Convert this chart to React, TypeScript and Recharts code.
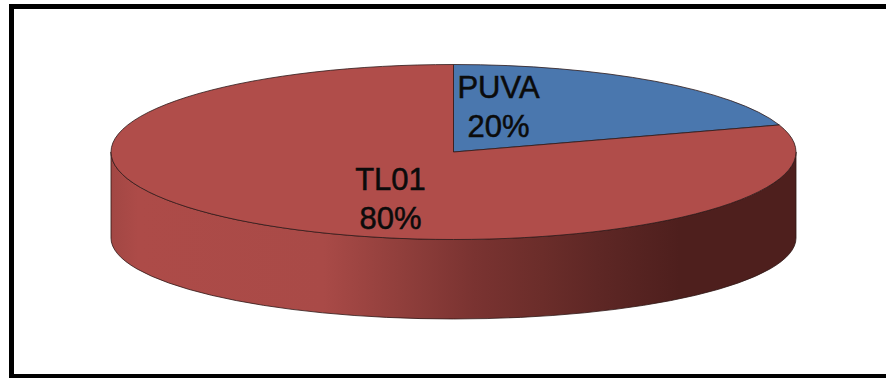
import React from 'react';
import { PieChart, Pie, Cell } from 'recharts';

const categories = ['PUVA', 'TL01'];
const shares = [20, 80];
const sliceColors = ['#4a77ae', '#b04d4a'];

const data = categories.map((name, i) => ({ name, value: shares[i] }));

const CX = 453.5;
const CY = 152;
const RX = 342.5;
const RY = 87.5;
const DEPTH = 86;
const BOTTOM_RY = 81;
const TILT = RY / RX;

// first-line baselines relative to the pie centre
const labelOffsets: Record<string, { dx: number; dy: number }> = {
  PUVA: { dx: 45, dy: -54 },
  TL01: { dx: -63, dy: 38 },
};

const onEllipse = (cx: number, cy: number, rx: number, angle: number) => {
  const rad = (angle * Math.PI) / 180;
  return { x: cx + rx * Math.cos(rad), y: cy - rx * TILT * Math.sin(rad) };
};

// recharts hands over a flat sector, this squashes it and adds the rim
const TiltedSector = (props: any) => {
  const { cx, cy, outerRadius: rx, startAngle, endAngle, fill, name } = props;
  const ry = rx * TILT;
  const from = onEllipse(cx, cy, rx, startAngle);
  const to = onEllipse(cx, cy, rx, endAngle);
  const large = Math.abs(startAngle - endAngle) > 180 ? 1 : 0;
  const top = `M${cx},${cy} L${from.x},${from.y} A${rx},${ry} 0 ${large} 1 ${to.x},${to.y} Z`;

  // only the front half of the rim is visible (-180..0 degrees)
  const wallFrom = Math.min(startAngle, 0);
  const wallTo = Math.max(endAngle, -180);
  let wall = null;
  if (wallFrom > wallTo) {
    const a = onEllipse(cx, cy, rx, wallFrom);
    const b = onEllipse(cx, cy, rx, wallTo);
    const d =
      `M${a.x},${a.y} A${rx},${ry} 0 0 1 ${b.x},${b.y} L${b.x},${b.y + DEPTH} ` +
      `A${rx},${BOTTOM_RY} 0 0 0 ${a.x},${a.y + DEPTH} Z`;
    wall = <path d={d} fill="url(#rimShade)" stroke="#2e1615" strokeWidth={0.8} />;
  }

  return (
    <g data-slice={name}>
      {wall}
      <path d={top} fill={fill} stroke="#2e1a1a" strokeWidth={0.8} />
    </g>
  );
};

const SliceLabel = (props: any) => {
  const { name, value } = props;
  const off = labelOffsets[name];
  const x = CX + off.dx;
  const y = CY + off.dy;
  return (
    <text x={x} y={y} textAnchor="middle" fontFamily="'Liberation Sans', Arial, sans-serif" fontSize={31} fill="#0b0b0b" stroke="#0b0b0b" strokeWidth={0.5}>
      <tspan x={x}>{name}</tspan>
      <tspan x={x} dy={39}>{`${value}%`}</tspan>
    </text>
  );
};

export default function App() {
  return (
    <div style={{ position: 'absolute', left: 0, top: 0, width: 886, height: 378, background: '#fff', overflow: 'hidden' }}>
      {/* frame runs off the right edge, so it has no right side */}
      <div
        style={{
          position: 'absolute',
          left: 9,
          top: 4,
          right: 0,
          bottom: 0,
          borderLeft: '5px solid #000',
          borderTop: '5px solid #000',
          borderBottom: '4px solid #000',
          boxSizing: 'border-box',
        }}
      />
      <div style={{ position: 'absolute', left: 0, top: 0 }}>
        <PieChart width={886} height={378} margin={{ top: 0, right: 0, bottom: 0, left: 0 }}>
          <defs>
            <linearGradient id="rimShade" gradientUnits="userSpaceOnUse" x1={CX - RX} y1={0} x2={CX + RX} y2={0}>
              <stop offset="0" stopColor="#a24744" />
              <stop offset="0.04" stopColor="#ad4b48" />
              <stop offset="0.31" stopColor="#a94a47" />
              <stop offset="0.43" stopColor="#8f3e3b" />
              <stop offset="0.53" stopColor="#7a3331" />
              <stop offset="0.63" stopColor="#6b2d2a" />
              <stop offset="0.71" stopColor="#5e2725" />
              <stop offset="0.83" stopColor="#4e1f1d" />
              <stop offset="1" stopColor="#4e1f1d" />
            </linearGradient>
          </defs>
          <Pie
            data={data}
            dataKey="value"
            nameKey="name"
            cx={CX}
            cy={CY}
            outerRadius={RX}
            startAngle={90}
            endAngle={-270}
            stroke="none"
            shape={TiltedSector}
            label={SliceLabel}
            labelLine={false}
            isAnimationActive={false}
          >
            {data.map((d, i) => (
              <Cell key={d.name} fill={sliceColors[i]} />
            ))}
          </Pie>
        </PieChart>
      </div>
    </div>
  );
}
